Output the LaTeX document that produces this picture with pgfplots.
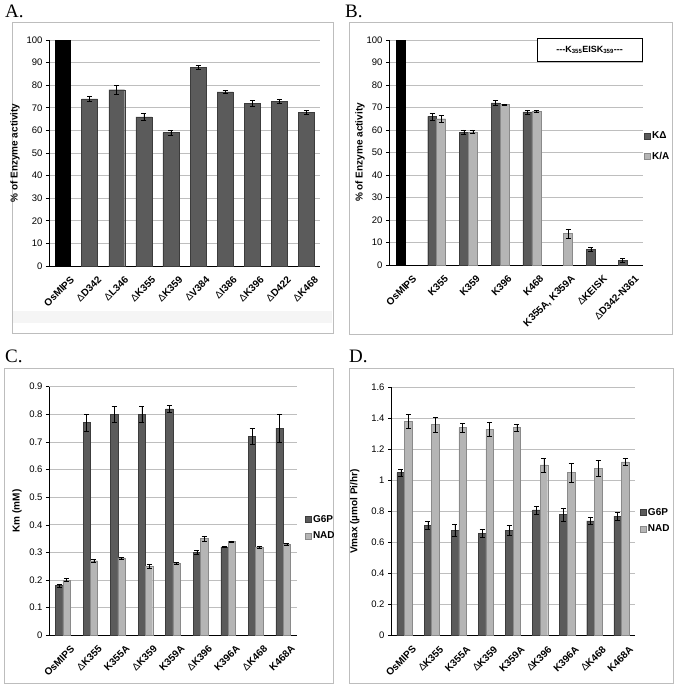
\documentclass[border=0pt]{standalone}
\usepackage{pgfplots}
\pgfplotsset{compat=1.18}
\usepackage{fontspec}
\setmainfont{Liberation Sans}
\newfontfamily\seriffont{Liberation Serif}
\definecolor{dk}{HTML}{5B5B5B}
\definecolor{dkb}{HTML}{3C3C3C}
\definecolor{lt}{HTML}{B5B5B5}
\definecolor{ltb}{HTML}{8A8A8A}
\definecolor{grd}{HTML}{BEBEBE}
\definecolor{frm}{HTML}{BDBDBD}
\pgfplotsset{
  myaxis/.style={
    scale only axis,
    axis x line*=bottom, axis y line*=left,
    axis line style={black, line width=0.8pt},
    ymajorgrids, major grid style={grd, line width=0.8pt},
    ymin=0, xmin=-0.5,
    tick align=outside, major tick length=3pt,
    ytick style={black, line width=0.6pt},
    xtick style={draw=none},
    tick label style={font=\fontsize{9.5}{11}\selectfont},
    /pgf/number format/assume math mode=true,
    xticklabel style={xshift=10pt, yshift=-9pt, rotate=45, anchor=east, font=\bfseries\fontsize{10}{11}\selectfont, inner sep=0pt},
    ylabel style={font=\bfseries\fontsize{10}{12}\selectfont, anchor=center},
    clip=false,
    legend style={draw=none, fill=none, font=\bfseries\fontsize{10}{12}\selectfont, anchor=north west, inner sep=0pt, legend cell align=left,
      nodes={inner sep=1.5pt}},
  },
  bticks/.style={extra x ticks={0.5,1.5,...,7.5}, extra x tick labels={},
    extra x tick style={grid=none, tick style={draw=black, line width=0.6pt}}},
  sq/.style={legend image code/.code={\draw[##1,/tikz/.cd] (0pt,-3pt) rectangle (6pt,3pt);}},
  eb/.style={/pgfplots/error bars/.cd, y dir=both, y explicit,
    error bar style={black, line width=0.5pt},
    error mark options={black, rotate=90, mark size=2.5pt, line width=0.5pt}, /pgfplots/.cd},
}
\begin{document}
\begin{tikzpicture}
\path[use as bounding box] (0pt,0pt) rectangle (677pt,688pt);
% frames
\draw[frm, line width=0.8pt] (12pt,666pt) rectangle (333pt,355pt);
\fill[black!4] (13pt,377pt) rectangle (332pt,365pt);
\draw[frm, line width=0.8pt] (349pt,666pt) rectangle (672pt,354pt);
\draw[frm, line width=0.8pt] (4pt,320pt) rectangle (333pt,5pt);
\draw[frm, line width=0.8pt] (349pt,320pt) rectangle (673pt,5pt);
% panel letters
\node[anchor=base west, inner sep=0pt, font=\seriffont\fontsize{19}{19}\selectfont] at (5pt,670pt) {A.};
\node[anchor=base west, inner sep=0pt, font=\seriffont\fontsize{19}{19}\selectfont] at (345pt,670pt) {B.};
\node[anchor=base west, inner sep=0pt, font=\seriffont\fontsize{19}{19}\selectfont] at (5pt,325pt) {C.};
\node[anchor=base west, inner sep=0pt, font=\seriffont\fontsize{19}{19}\selectfont] at (349pt,325pt) {D.};

% ---------------- A
\begin{axis}[myaxis, at={(49pt,422pt)}, anchor=south west, width=271pt, height=226pt,
  xmax=9.5, ymax=100, ytick={0,10,...,100},
  xtick={0,...,9},
  xticklabels={OsMIPS,{\mdseries Δ}D342,{\mdseries Δ}L346,{\mdseries Δ}K355,{\mdseries Δ}K359,{\mdseries Δ}V384,{\mdseries Δ}I386,{\mdseries Δ}K396,{\mdseries Δ}D422,{\mdseries Δ}K468},
  ylabel={\% of Enzyme activity},
  ylabel style={at={(axis description cs:-0.125,0.5)}},
]
\addplot[ybar, bar width=0.56, fill=black, draw=black] coordinates {(0,100)};
\addplot[ybar, bar width=0.59, fill=dk, draw=dkb, eb] table[x=x,y=y,y error=e] {
x y e
1 74 1.3
2 78 1.8
3 66 1.7
4 59 1.0
5 88 1.0
6 77 0.7
7 72 1.2
8 73 1.0
9 68 1.0
};
\end{axis}

% ---------------- B
\begin{axis}[myaxis, at={(389pt,423pt)}, anchor=south west, width=254pt, height=225pt,
  xmax=7.5, ymax=100, ytick={0,10,...,100},
  xtick={0,...,7},
  xticklabels={OsMIPS,K355,K359,K396,K468,{K355A, K359A},{\mdseries Δ}KEISK,{\mdseries Δ}D342-N361},
  ylabel={\% of Enzyme activity},
  ylabel style={at={(axis description cs:-0.114,0.5)}},
  legend style={at={(axis description cs:1.004,0.6)}, row sep=9pt},
]
\addplot[ybar, bar width=0.28, fill=black, draw=black, forget plot] coordinates {(-0.14,100)};
\addplot[ybar, bar width=0.28, fill=dk, draw=dkb, sq, eb] table[x expr=\thisrow{x}-0.14,y=y,y error=e] {
x y e
1 66 1.5
2 59 1.0
3 72 1.0
4 68 0.8
6 7 1.0
7 2 1.0
};
\addlegendentry{KΔ}
\addplot[ybar, bar width=0.28, fill=lt, draw=ltb, sq, eb] table[x expr=\thisrow{x}+0.14,y=y,y error=e] {
x y e
1 65 1.5
2 59.2 0.8
3 71.3 0.3
4 68.3 0.5
5 14 2.0
};
\addlegendentry{K/A}
\node[draw=black, line width=0.8pt, fill=white, minimum width=105pt, minimum height=23pt, inner sep=0pt,
  font=\bfseries\fontsize{9}{10}\selectfont] at (rel axis cs:0.79,0.955) {{-}{-}{-}K\textsubscript{355}EISK\textsubscript{359}{-}{-}{-}};
\end{axis}

% ---------------- C
\begin{axis}[myaxis, bticks, at={(49pt,52.7pt)}, anchor=south west, width=248pt, height=248.6pt,
  xmax=8.5, ymax=0.9, ytick={0,0.1,...,0.9},
  xtick={0,...,8},
  xticklabels={OsMIPS,{\mdseries Δ}K355,K355A,{\mdseries Δ}K359,K359A,{\mdseries Δ}K396,K396A,{\mdseries Δ}K468,K468A},
  ylabel={Km (mM)},
  ylabel style={at={(axis description cs:-0.129,0.5)}},
  legend style={at={(axis description cs:1.032,0.49)}, row sep=5pt},
  yticklabel style={/pgf/number format/.cd, fixed, precision=1},
]
\addplot[ybar, bar width=0.265, fill=dk, draw=dkb, sq, eb] table[x expr=\thisrow{x}-0.1325,y=y,y error=e] {
x y e
0 0.18 0.005
1 0.77 0.030
2 0.80 0.030
3 0.80 0.030
4 0.82 0.012
5 0.30 0.008
6 0.32 0.003
7 0.72 0.028
8 0.75 0.050
};
\addlegendentry{G6P}
\addplot[ybar, bar width=0.265, fill=lt, draw=ltb, sq, eb] table[x expr=\thisrow{x}+0.1325,y=y,y error=e] {
x y e
0 0.20 0.005
1 0.27 0.005
2 0.28 0.003
3 0.25 0.008
4 0.26 0.004
5 0.35 0.010
6 0.34 0.002
7 0.32 0.004
8 0.33 0.003
};
\addlegendentry{NAD}
\end{axis}

% ---------------- D
\begin{axis}[myaxis, bticks, at={(391pt,52.3pt)}, anchor=south west, width=244pt, height=248.4pt,
  xmax=8.5, ymax=1.6, ytick={0,0.2,...,1.6},
  xtick={0,...,8},
  xticklabels={OsMIPS,{\mdseries Δ}K355,K355A,{\mdseries Δ}K359,K359A,{\mdseries Δ}K396,K396A,{\mdseries Δ}K468,K468A},
  ylabel={Vmax (µmol Pi/hr)},
  ylabel style={at={(axis description cs:-0.148,0.5)}},
  legend style={at={(axis description cs:1.02,0.52)}, row sep=5pt},
]
\addplot[ybar, bar width=0.28, fill=dk, draw=dkb, sq, eb] table[x expr=\thisrow{x}-0.14,y=y,y error=e] {
x y e
0 1.05 0.020
1 0.71 0.025
2 0.68 0.040
3 0.66 0.025
4 0.68 0.030
5 0.81 0.025
6 0.78 0.040
7 0.74 0.025
8 0.77 0.025
};
\addlegendentry{G6P}
\addplot[ybar, bar width=0.28, fill=lt, draw=ltb, sq, eb] table[x expr=\thisrow{x}+0.14,y=y,y error=e] {
x y e
0 1.38 0.045
1 1.36 0.050
2 1.34 0.030
3 1.33 0.045
4 1.34 0.025
5 1.10 0.045
6 1.05 0.060
7 1.08 0.050
8 1.12 0.025
};
\addlegendentry{NAD}
\end{axis}
\end{tikzpicture}
\end{document}
